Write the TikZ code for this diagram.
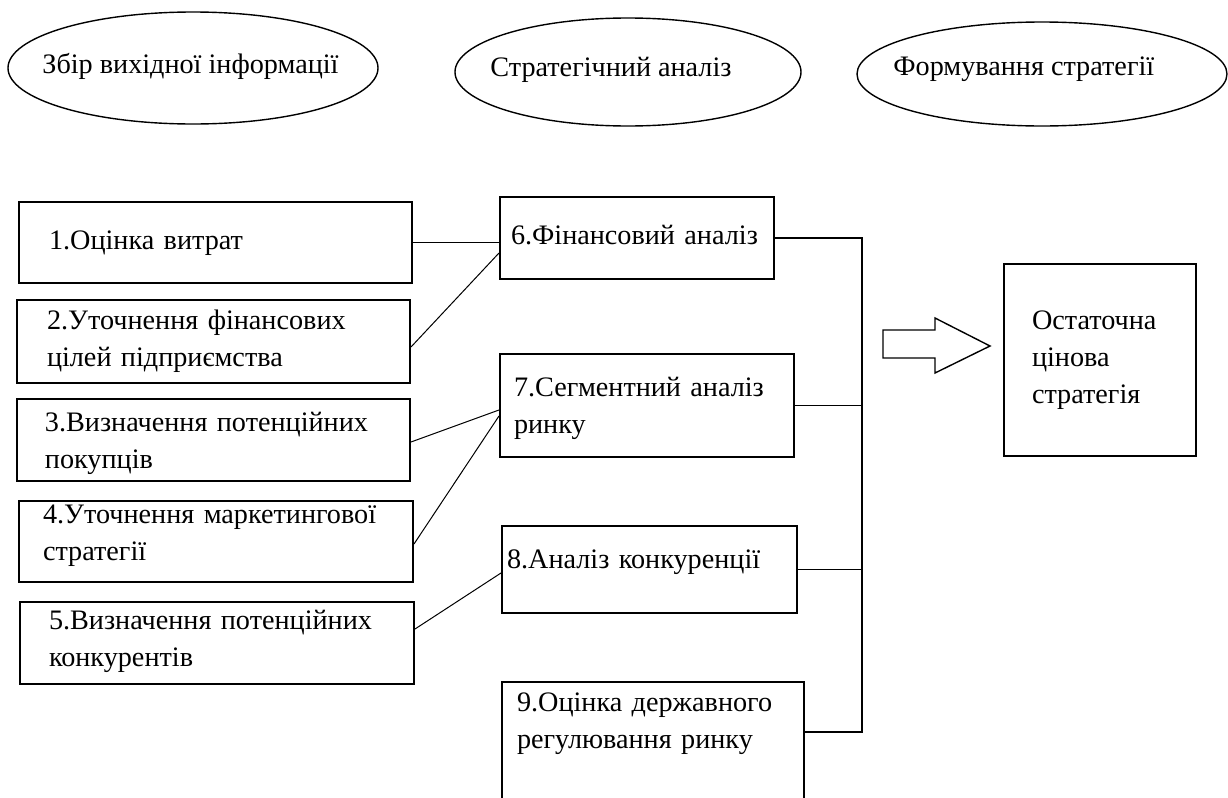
\documentclass[tikz,border=0pt]{standalone}
\usepackage{fontspec}
\setmainfont{Liberation Serif}
\usetikzlibrary{shapes.geometric}
\tikzset{blok/.style={draw,line width=1pt,anchor=north west,inner sep=0pt,align=left}}
\tikzset{etap/.style={draw,ellipse,line width=0.7pt,inner sep=0pt}}
\tikzset{napys/.style={anchor=base west,inner sep=0pt}}
\tikzset{tonka/.style={line width=0.5pt}}
\tikzset{shyna/.style={line width=0.8pt}}

\begin{document}
\begin{tikzpicture}[x=0.5pt,y=-0.5pt,font=\fontsize{14.1pt}{18.5pt}\selectfont]
  \useasboundingbox (0,0) rectangle (1228,798);
  \clip (0,0) rectangle (1228,798);
  % etapy
  \node(e1)[etap,minimum width=185pt,minimum height=56pt] at (193,68) {};
  \node(e2)[etap,minimum width=173pt,minimum height=54pt] at (628,72) {};
  \node(e3)[etap,minimum width=185pt,minimum height=52pt] at (1042,74) {};
  \node(t1)[napys] at (42,73) {Збір вихідної інформації};
  \node(t2)[napys] at (490,76) {Стратегічний аналіз};
  \node(t3)[napys] at (893,75) {Формування стратегії};
  % vykhidna informatsiia
  \node(b1)[blok,minimum width=196.5pt,text width=166.5pt,text height=23.5pt,text depth=17pt]
    at (18,201) {1.Оцінка витрат};
  \node(b2)[blok,minimum width=196.5pt,text width=166.5pt,text height=14.5pt,text depth=27pt]
    at (16,299) {2.Уточнення фінансових\\цілей підприємства};
  \node(b3)[blok,minimum width=196.5pt,text width=168.5pt,text height=16pt,text depth=25pt]
    at (16,398) {3.Визначення потенційних\\покупців};
  \node(b4)[blok,minimum width=197pt,text width=173pt,text height=11pt,text depth=29.5pt]
    at (18,500) {4.Уточнення маркетингової\\стратегії};
  \node(b5)[blok,minimum width=197pt,text width=168pt,text height=13.5pt,text depth=27.5pt]
    at (19,601) {5.Визначення потенційних\\конкурентів};
  % analiz
  \node(b6)[blok,minimum width=137pt,text width=126pt,text height=23.5pt,text depth=17.5pt]
    at (499,196) {6.Фінансовий аналіз};
  \node(b7)[blok,minimum width=147pt,text width=133pt,text height=21pt,text depth=30.5pt]
    at (499,353) {7.Сегментний аналіз\\ринку};
  \node(b8)[blok,minimum width=147.5pt,text width=142.5pt,text height=21pt,text depth=22.5pt]
    at (501,525) {8.Аналіз конкуренції};
  \node(b9)[blok,minimum width=151pt,text width=136pt,text height=14.5pt,text depth=60.5pt]
    at (501,681) {9.Оцінка державного\\регулювання ринку};
  % stratehiia
  \node(fin)[blok,minimum width=96pt,text width=68pt,text height=32.5pt,text depth=63.5pt]
    at (1003,263) {Остаточна\\цінова\\стратегія};
  % zviazky
  \draw[shyna] (b1.east) -- (b1.east -| b6.west);
  \draw[tonka] ([yshift=-2.75pt]b2.east) -- ([yshift=-7.5pt]b6.west);
  \draw[tonka] ([yshift=-1pt]b3.east) -- ([yshift=-2.25pt]b7.west);
  \draw[tonka] ([yshift=-1.25pt]b4.east) -- ([yshift=-5.25pt]b7.west);
  \draw[tonka] ([yshift=7pt]b5.east) -- ([yshift=-1.75pt]b8.west);
  \coordinate(sh) at (862,236);
  \coordinate(k9) at ([yshift=12.5pt]b9.east);
  \draw[shyna] (b6.east) -- (b6.east -| sh) -- (k9 -| sh) -- (k9);
  \draw[shyna] (b7.east) -- (b7.east -| sh);
  \draw[shyna] (b8.east) -- (b8.east -| sh);
  % strilka
  \draw[line width=0.7pt] (883,330) -- (935,330) -- (935,318) -- (990,346)
    -- (935,373) -- (935,358) -- (883,358) -- cycle;
\end{tikzpicture}
\end{document}
